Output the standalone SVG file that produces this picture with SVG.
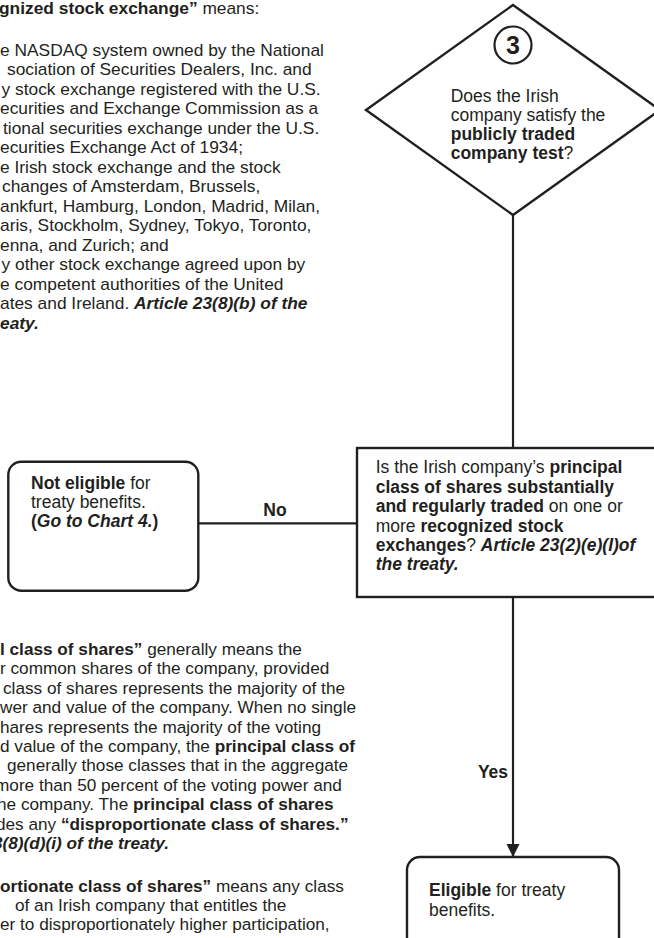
<svg xmlns="http://www.w3.org/2000/svg" width="654" height="938" viewBox="0 0 654 938">
<style>
text{font-family:"Liberation Sans",Arial,Helvetica,sans-serif;font-size:17.5px;fill:#231f20}
.b{font-weight:bold}
.bi{font-weight:bold;font-style:italic}
.def1 text{font-size:17.35px}
.def2 text{font-size:17.2px}
.shape{fill:#fff;stroke:#231f20;stroke-width:2.4}
.line{fill:none;stroke:#231f20;stroke-width:2.2}
</style>
<defs>
<marker id="arrow" markerWidth="14" markerHeight="14" refX="13" refY="6.5" orient="auto" markerUnits="userSpaceOnUse">
<path d="M0,0 L13,6.5 L0,13 Z" fill="#231f20"/>
</marker>
</defs>
<rect width="654" height="938" fill="#fff"/>

<g id="definition-recognized" class="def1">
<text x="-1" y="13.5"><tspan class="b">gnized stock exchange”</tspan> means:</text>
<text x="0" y="55.5">e NASDAQ system owned by the National</text>
<text x="7" y="75">sociation of Securities Dealers, Inc. and</text>
<text x="1.5" y="94.5">y stock exchange registered with the U.S.</text>
<text x="0" y="114">ecurities and Exchange Commission as a</text>
<text x="3" y="133.5">tional securities exchange under the U.S.</text>
<text x="0" y="153">ecurities Exchange Act of 1934;</text>
<text x="0" y="172.5">e Irish stock exchange and the stock</text>
<text x="2" y="192">changes of Amsterdam, Brussels,</text>
<text x="0" y="211.5">ankfurt, Hamburg, London, Madrid, Milan,</text>
<text x="0" y="231">aris, Stockholm, Sydney, Tokyo, Toronto,</text>
<text x="0" y="250.5">enna, and Zurich; and</text>
<text x="1.5" y="270">y other stock exchange agreed upon by</text>
<text x="0" y="289.5">e competent authorities of the United</text>
<text x="0" y="309">ates and Ireland. <tspan class="bi">Article 23(8)(b) of the</tspan></text>
<text x="0" y="328.5" class="bi">eaty.</text>
</g>

<g id="definition-principal" class="def2">
<text x="0" y="655"><tspan class="b">l class of shares”</tspan> generally means the</text>
<text x="0" y="674.4">r common shares of the company, provided</text>
<text x="3" y="693.8">class of shares represents the majority of the</text>
<text x="0" y="713.2">wer and value of the company. When no single</text>
<text x="0" y="732.6">hares represents the majority of the voting</text>
<text x="0" y="752">d value of the company, the <tspan class="b">principal class of</tspan></text>
<text x="7" y="771.4">generally those classes that in the aggregate</text>
<text x="-5" y="790.8">more than 50 percent of the voting power and</text>
<text x="-3" y="810.2">he company. The <tspan class="b">principal class of shares</tspan></text>
<text x="-4" y="829.6">des any <tspan class="b">“disproportionate class of shares.”</tspan></text>
<text x="-7" y="849" class="bi">3(8)(d)(i) of the treaty.</text>
<text x="0" y="891.5"><tspan class="b">ortionate class of shares”</tspan> means any class</text>
<text x="15" y="910.7">of an Irish company that entitles the</text>
<text x="0" y="930">er to disproportionately higher participation,</text>
</g>

<g id="connectors">
<line class="line" x1="513" y1="215" x2="513" y2="448"/>
<line class="line" x1="198" y1="523.3" x2="357" y2="523.3"/>
<line class="line" x1="513" y1="597" x2="513" y2="857" marker-end="url(#arrow)"/>
<text x="275" y="516" class="b" text-anchor="middle">No</text>
<text x="493" y="778" class="b" text-anchor="middle">Yes</text>
</g>

<g id="node-3-decision">
<polygon class="shape" points="513,5 660,110 513,215 366,110" stroke-width="2.2"/>
<circle cx="513" cy="45" r="18.5" fill="#fff" stroke="#231f20" stroke-width="2.2"/>
<text x="513" y="54" class="b" text-anchor="middle" style="font-size:25px">3</text>
<text x="450.7" y="101.7">Does the Irish</text>
<text x="450.7" y="120.9">company satisfy the</text>
<text x="450.7" y="140.1" class="b">publicly traded</text>
<text x="450.7" y="159.3"><tspan class="b">company test</tspan>?</text>
</g>

<g id="node-principal-question">
<rect class="shape" x="357" y="448" width="310" height="149"/>
<text x="375.7" y="473.3">Is the Irish company’s <tspan class="b">principal</tspan></text>
<text x="375.7" y="492.7" class="b">class of shares substantially</text>
<text x="375.7" y="512.1"><tspan class="b">and regularly traded</tspan> on one or</text>
<text x="375.7" y="531.5">more <tspan class="b">recognized stock</tspan></text>
<text x="375.7" y="550.9"><tspan class="b">exchanges</tspan>? <tspan class="bi">Article 23(2)(e)(I)of</tspan></text>
<text x="375.7" y="570.3" class="bi">the treaty.</text>
</g>

<g id="node-not-eligible">
<rect class="shape" x="8.3" y="461.7" width="190" height="129" rx="13" ry="13"/>
<text x="31" y="489.3"><tspan class="b">Not eligible</tspan> for</text>
<text x="31" y="508.3">treaty benefits.</text>
<text x="31" y="527.3" class="b">(<tspan class="bi">Go to Chart 4.</tspan>)</text>
</g>

<g id="node-eligible">
<rect class="shape" x="407" y="857" width="212" height="100" rx="13" ry="13"/>
<text x="429" y="896"><tspan class="b">Eligible</tspan> for treaty</text>
<text x="429" y="916">benefits.</text>
</g>
</svg>
